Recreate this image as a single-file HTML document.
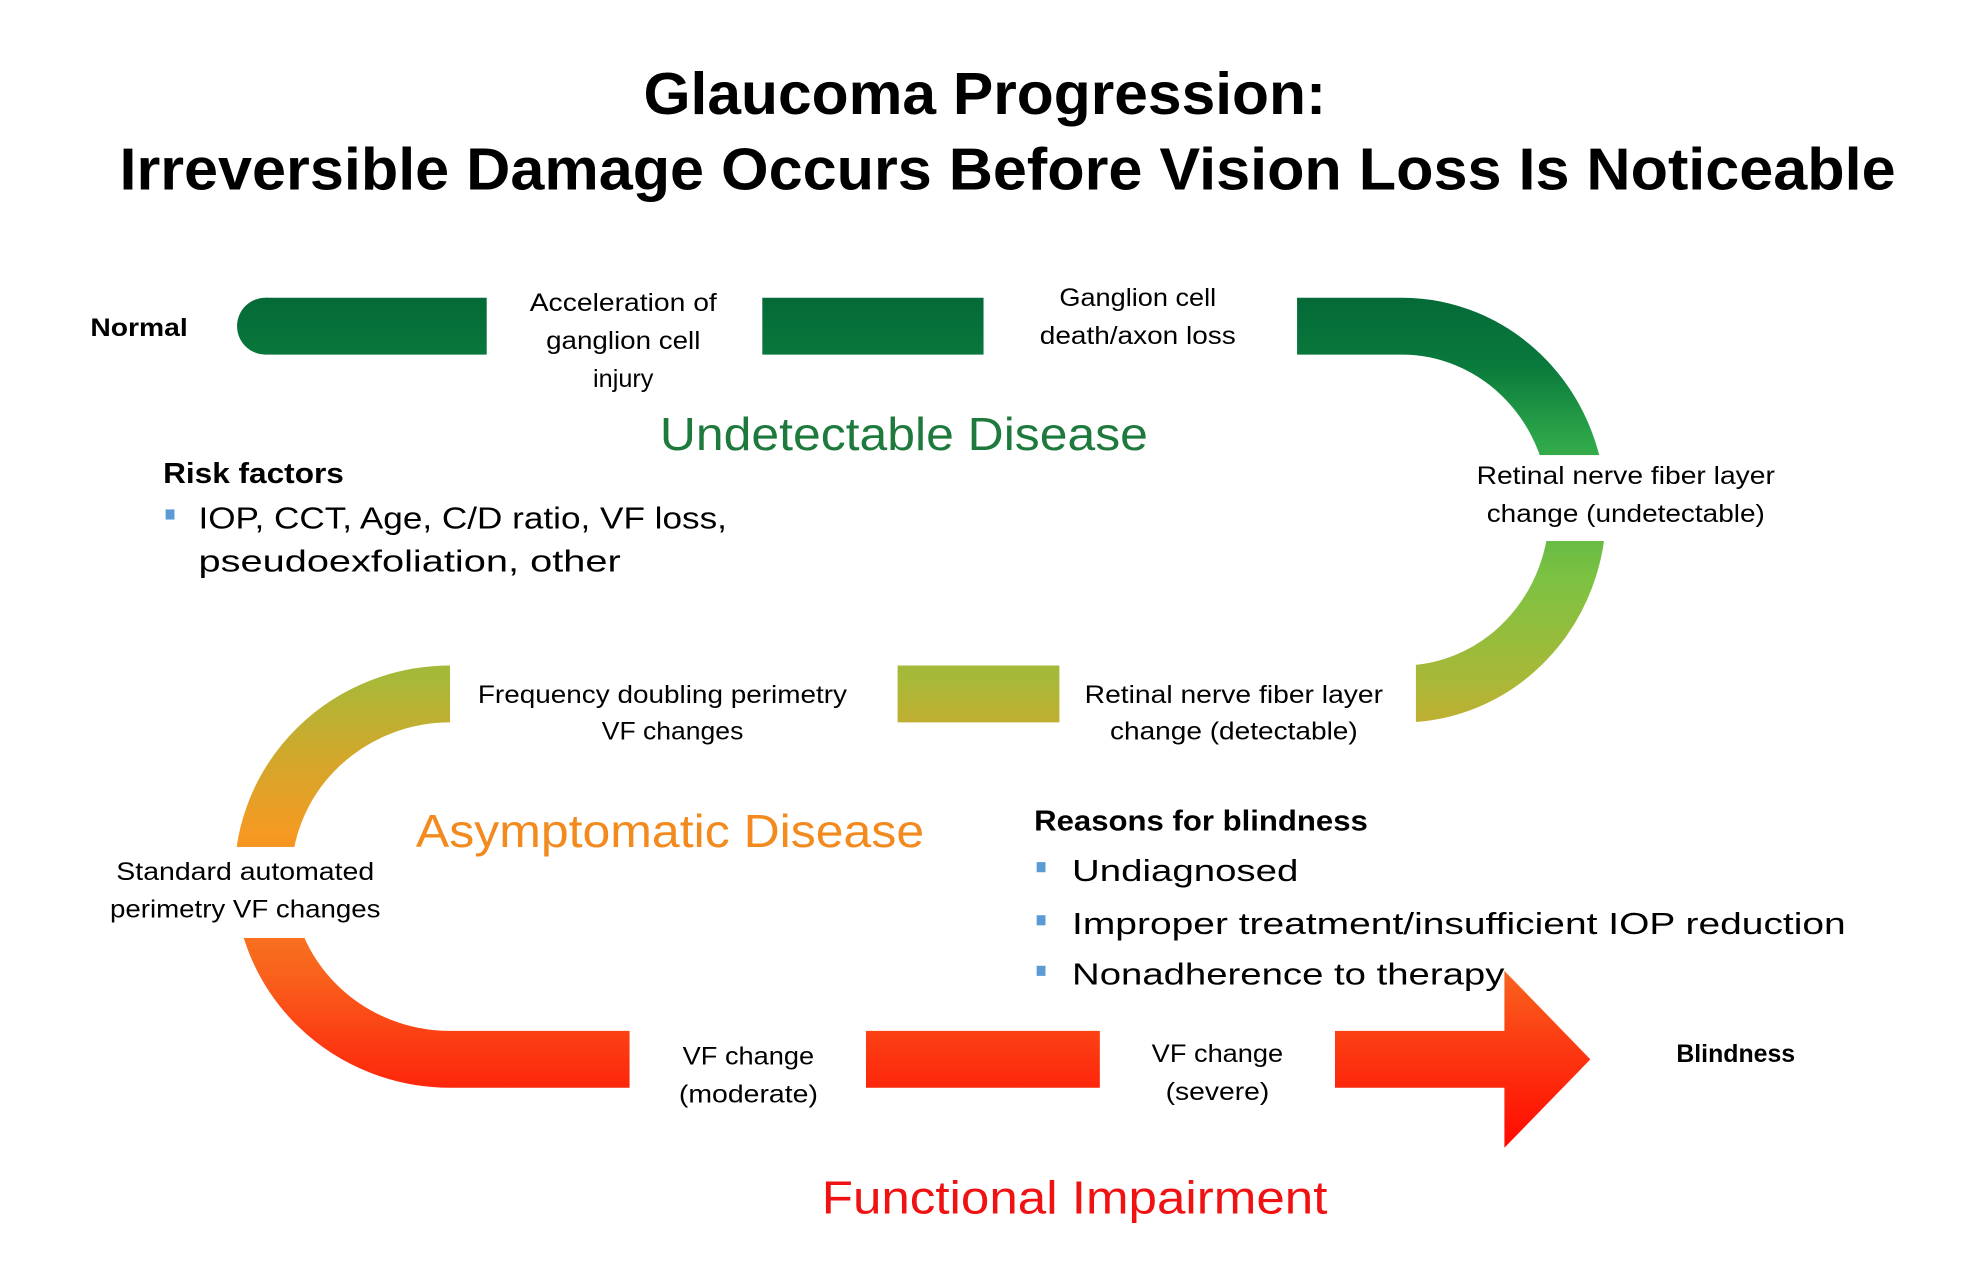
<!DOCTYPE html>
<html><head><meta charset="utf-8"><style>
html,body{margin:0;padding:0;background:#fff;}
svg{display:block;}
text{font-family:"Liberation Sans",sans-serif;fill:#000;}
</style></head><body>
<svg width="1981" height="1266" viewBox="0 0 1567 1001.5" preserveAspectRatio="none" xmlns="http://www.w3.org/2000/svg">
<defs>
<linearGradient id="g" gradientUnits="userSpaceOnUse" x1="0" y1="236" x2="0" y2="908">
<stop offset="0" stop-color="#046a38"/>
<stop offset="0.08" stop-color="#0a7a3c"/>
<stop offset="0.17" stop-color="#2ea84a"/>
<stop offset="0.33" stop-color="#7dc242"/>
<stop offset="0.45" stop-color="#a9b838"/>
<stop offset="0.52" stop-color="#c9ab2e"/>
<stop offset="0.63" stop-color="#f59a22"/>
<stop offset="0.80" stop-color="#f9601c"/>
<stop offset="0.88" stop-color="#fc3a12"/>
<stop offset="1" stop-color="#ff0a00"/>
</linearGradient>
</defs>
<path d="M 210 258 H 1109 A 139 145.5 0 0 1 1109 549 H 356 A 148 144.5 0 0 0 356 838 H 1191" fill="none" stroke="url(#g)" stroke-width="45" stroke-linecap="butt"/>
<circle cx="210" cy="258" r="22.5" fill="url(#g)"/>
<polygon points="1190,768 1258,838 1190,908" fill="url(#g)"/>
<rect x="385" y="228" width="218" height="65" fill="#fff"/>
<rect x="778" y="228" width="248" height="65" fill="#fff"/>
<rect x="1150" y="360" width="200" height="68" fill="#fff"/>
<rect x="356" y="518" width="354" height="65" fill="#fff"/>
<rect x="838" y="518" width="282" height="65" fill="#fff"/>
<rect x="150" y="670" width="200" height="72" fill="#fff"/>
<rect x="498" y="808" width="187" height="65" fill="#fff"/>
<rect x="870" y="808" width="186" height="65" fill="#fff"/>

<text x="779" y="90" font-size="47" font-weight="bold" text-anchor="middle" textLength="540" lengthAdjust="spacingAndGlyphs">Glaucoma Progression:</text>
<text x="797" y="150" font-size="47" font-weight="bold" text-anchor="middle" textLength="1405" lengthAdjust="spacingAndGlyphs">Irreversible Damage Occurs Before Vision Loss Is Noticeable</text>

<g font-size="20" text-anchor="middle">
<text x="110" y="266" font-weight="bold" textLength="77" lengthAdjust="spacingAndGlyphs">Normal</text>
<text x="493" y="246" textLength="148" lengthAdjust="spacingAndGlyphs">Acceleration of</text>
<text x="493" y="276" textLength="122" lengthAdjust="spacingAndGlyphs">ganglion cell</text>
<text x="493" y="306">injury</text>
<text x="900" y="242" textLength="124" lengthAdjust="spacingAndGlyphs">Ganglion cell</text>
<text x="900" y="272" textLength="155" lengthAdjust="spacingAndGlyphs">death/axon loss</text>
<text x="1286" y="383" textLength="236" lengthAdjust="spacingAndGlyphs">Retinal nerve fiber layer</text>
<text x="1286" y="413" textLength="220" lengthAdjust="spacingAndGlyphs">change (undetectable)</text>
<text x="524" y="556" textLength="292" lengthAdjust="spacingAndGlyphs">Frequency doubling perimetry</text>
<text x="532" y="585" textLength="112" lengthAdjust="spacingAndGlyphs">VF changes</text>
<text x="976" y="556" textLength="236" lengthAdjust="spacingAndGlyphs">Retinal nerve fiber layer</text>
<text x="976" y="585" textLength="196" lengthAdjust="spacingAndGlyphs">change (detectable)</text>
<text x="194" y="696" textLength="204" lengthAdjust="spacingAndGlyphs">Standard automated</text>
<text x="194" y="726" textLength="214" lengthAdjust="spacingAndGlyphs">perimetry VF changes</text>
<text x="592" y="842" textLength="104" lengthAdjust="spacingAndGlyphs">VF change</text>
<text x="592" y="872" textLength="110" lengthAdjust="spacingAndGlyphs">(moderate)</text>
<text x="963" y="840" textLength="104" lengthAdjust="spacingAndGlyphs">VF change</text>
<text x="963" y="870" textLength="82" lengthAdjust="spacingAndGlyphs">(severe)</text>
<text x="1373" y="840" font-weight="bold" textLength="94" lengthAdjust="spacingAndGlyphs">Blindness</text>
</g>

<text x="715" y="356" font-size="37" style="fill:#1e7a3c" text-anchor="middle" textLength="386" lengthAdjust="spacingAndGlyphs">Undetectable Disease</text>
<text x="530" y="670" font-size="37" style="fill:#f28a1e" text-anchor="middle" textLength="402" lengthAdjust="spacingAndGlyphs">Asymptomatic Disease</text>
<text x="850" y="960" font-size="37" style="fill:#f01212" text-anchor="middle" textLength="400" lengthAdjust="spacingAndGlyphs">Functional Impairment</text>

<text x="129" y="382" font-size="23" font-weight="bold" textLength="143" lengthAdjust="spacingAndGlyphs">Risk factors</text>
<rect x="131" y="403" width="7" height="8" fill="#5b9bd5"/>
<text x="157" y="418" font-size="24" textLength="418" lengthAdjust="spacingAndGlyphs">IOP, CCT, Age, C/D ratio, VF loss,</text>
<text x="157" y="452" font-size="24" textLength="334" lengthAdjust="spacingAndGlyphs">pseudoexfoliation, other</text>

<text x="818" y="657" font-size="23" font-weight="bold" textLength="264" lengthAdjust="spacingAndGlyphs">Reasons for blindness</text>
<rect x="820" y="682" width="7" height="8" fill="#5b9bd5"/>
<text x="848" y="697" font-size="24" textLength="179" lengthAdjust="spacingAndGlyphs">Undiagnosed</text>
<rect x="820" y="724" width="7" height="8" fill="#5b9bd5"/>
<text x="848" y="739" font-size="24" textLength="612" lengthAdjust="spacingAndGlyphs">Improper treatment/insufficient IOP reduction</text>
<rect x="820" y="764" width="7" height="8" fill="#5b9bd5"/>
<text x="848" y="779" font-size="24" textLength="342" lengthAdjust="spacingAndGlyphs">Nonadherence to therapy</text>
</svg>
</body></html>
